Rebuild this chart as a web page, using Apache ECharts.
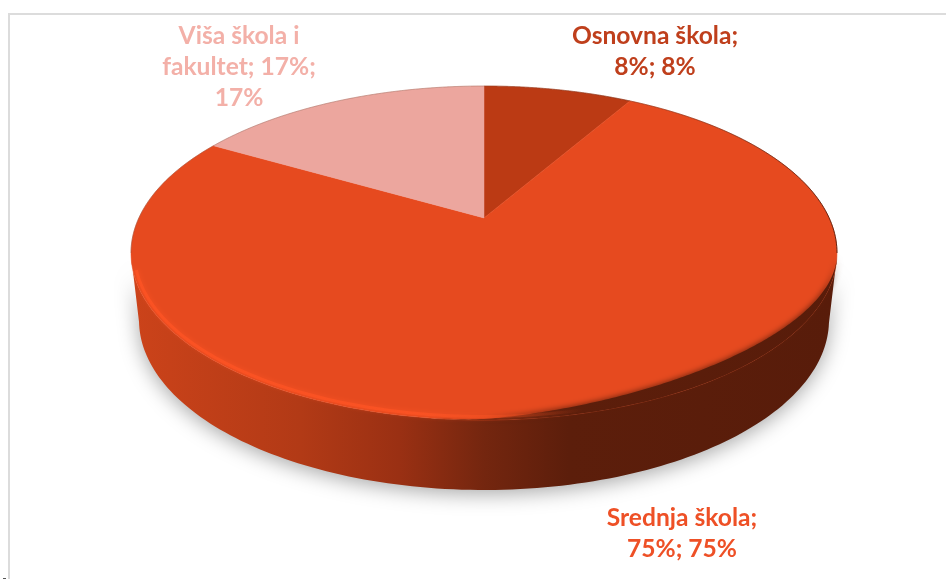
<!DOCTYPE html>
<html>
<head>
<meta charset="utf-8">
<style>
  html, body { margin: 0; padding: 0; background: #fff; }
  #chart { width: 946px; height: 579px; }
</style>
<script src="https://cdn.jsdelivr.net/npm/echarts@6/dist/echarts.min.js"></script>
</head>
<body>
<div id="chart"></div>
<script>
const categories = ['Osnovna škola', 'Srednja škola', 'Viša škola i fakultet'];
// procitano s kriski (oznake na slici su zaokruzene)
const shares = [8.33, 75, 16.67];
const sliceColors = ['#bb3a14', '#e64a1f', '#eca69e'];
const labelColors = ['#bf3f1c', '#ee5026', '#f3b0a8'];

// gornja ploha i donji rub (elipse u pikselima)
const top3d = { cx: 484, cy: 253, rx: 353, ry: 167 };
const bottom3d = { cx: 484, cy: 320, rx: 345, ry: 170 };
// pomak sredine kruga zbog perspektive
const tilt = 0.21;
const GLOBAL = true;
const total = shares.reduce((a, b) => a + b, 0);

// kut (u smjeru kazaljke, od vrha) -> normalizirana tocka na elipsi
function rimPoint(angle) {
  const u = Math.sin(angle);
  const v = Math.cos(angle);
  const d = 1 + tilt * v;
  return [u * Math.sqrt(1 - tilt * tilt) / d, (v + tilt) / d];
}

function toPixel(e, p) {
  return [e.cx + p[0] * e.rx, e.cy - p[1] * e.ry];
}

function sliceRange(i) {
  const before = shares.slice(0, i).reduce((a, b) => a + b, 0);
  return [before / total * Math.PI * 2, (before + shares[i]) / total * Math.PI * 2];
}

function sampleRim(i) {
  const [a0, a1] = sliceRange(i);
  const n = 240;
  const pts = [];
  for (let k = 0; k <= n; k++) pts.push(rimPoint(a0 + (a1 - a0) * k / n));
  return pts;
}

function arc(e, from, to, inset = 0) {
  const pts = [];
  for (let k = 0; k <= 160; k++) {
    const t = (from + (to - from) * k / 160) * Math.PI / 180;
    pts.push([e.cx + (e.rx - inset) * Math.cos(t), e.cy + (e.ry - inset) * Math.sin(t)]);
  }
  return pts;
}

const wallFill = new echarts.graphic.LinearGradient(131, 0, 837, 0, [
  { offset: 0, color: '#cc431a' },
  { offset: 0.24, color: '#b23a16' },
  { offset: 0.38, color: '#9a3013' },
  { offset: 0.5, color: '#74260f' },
  { offset: 0.62, color: '#5c1e0b' },
  { offset: 1, color: '#581c0a' }
], GLOBAL);

const edgeStroke = new echarts.graphic.LinearGradient(131, 0, 837, 0, [
  { offset: 0, color: 'rgba(255,84,36,0.7)' },
  { offset: 0.4, color: 'rgba(255,84,36,0.7)' },
  { offset: 0.64, color: 'rgba(255,84,36,0)' },
  { offset: 1, color: 'rgba(255,84,36,0)' }
], GLOBAL);

const fringeStroke = new echarts.graphic.LinearGradient(131, 0, 837, 0, [
  { offset: 0, color: 'rgba(120,80,70,0.35)' },
  { offset: 0.5, color: 'rgba(120,70,50,0.3)' },
  { offset: 0.8, color: 'rgba(90,30,12,0.45)' },
  { offset: 1, color: 'rgba(88,28,10,0.9)' }
], GLOBAL);

// bocna stijenka, samo prednji dio svake kriske
function renderWall(params) {
  const front = sampleRim(params.dataIndex).filter(p => p[1] <= 0);
  if (front.length < 2) return { type: 'group', children: [] };
  const points = front.map(p => toPixel(bottom3d, p))
    .concat(front.slice().reverse().map(p => toPixel(top3d, p)));
  return {
    type: 'polygon',
    shape: { points },
    style: {
      fill: wallFill,
      shadowBlur: 20,
      shadowColor: 'rgba(0,0,0,0.34)',
      shadowOffsetY: 4
    },
    silent: true
  };
}

function renderFace(params, api) {
  const i = params.dataIndex;
  const apex = toPixel(top3d, [0, tilt]);
  const points = [apex].concat(sampleRim(i).map(p => toPixel(top3d, p)));
  return {
    type: 'polygon',
    shape: { points },
    style: { fill: api.visual('color'), stroke: api.visual('color'), lineWidth: 0.5 },
    silent: true
  };
}

// sjena na desnom donjem rubu plohe i svijetli rub lijevo
function renderEdge() {
  const from = 100;
  const outer = arc(top3d, from, 0);
  const inner = outer.map((p, k) => {
    const deg = from - from * k / 160;
    const lift = Math.max(0, Math.sin(2 * deg * Math.PI / 180)) * 12 + Math.sin(deg / from * Math.PI) * 3;
    return [p[0], p[1] - lift];
  }).reverse();
  return {
    type: 'group',
    children: [
      { type: 'polyline', shape: { points: arc(top3d, -180, 0) },
        style: { fill: 'none', stroke: fringeStroke, lineWidth: 1 }, silent: true },
      { type: 'polygon', shape: { points: outer.concat(inner) },
        style: { fill: wallFill, shadowBlur: 6, shadowColor: '#5c1e0b' }, silent: true },
      { type: 'polyline', shape: { points: arc(top3d, 174, 60, 3.5) },
        style: { fill: 'none', stroke: edgeStroke, lineWidth: 3,
          shadowBlur: 5, shadowColor: '#ff5424' }, silent: true }
    ]
  };
}

const labelBreaks = [['\n', ' '], ['\n', ' '], [' ', '\n']];
const labelCenters = [[655, 20.5], [682, 502.5], [239, 20.5]];

function labelText(i) {
  const name = categories[i].replace('i fakultet', 'i\nfakultet');
  const v = Math.round(shares[i]) + '%';
  return name + ';' + labelBreaks[i][0] + v + ';' + labelBreaks[i][1] + v;
}

function renderLabel(params) {
  const i = params.dataIndex;
  return {
    type: 'text',
    x: labelCenters[i][0],
    y: labelCenters[i][1],
    style: {
      text: labelText(i),
      fill: labelColors[i],
      font: 'bold 24.6px Lato, "Noto Sans", sans-serif',
      lineHeight: 31,
      textAlign: 'center',
      textVerticalAlign: 'top'
    },
    silent: true
  };
}

const chart = echarts.init(document.getElementById('chart'), null, { renderer: 'canvas' });
const sliceData = shares.map((value, i) => ({
  name: categories[i],
  value,
  itemStyle: { color: sliceColors[i] }
}));

chart.setOption({
  animation: false,
  backgroundColor: '#fff',
  tooltip: { show: false },
  graphic: [
    { type: 'rect', shape: { x: 8, y: 13, width: 938, height: 2 }, style: { fill: '#dcdcdc' }, silent: true },
    { type: 'rect', shape: { x: 8, y: 13, width: 2, height: 566 }, style: { fill: '#dcdcdc' }, silent: true },
    { type: 'rect', shape: { x: 3, y: 578, width: 3, height: 1 }, style: { fill: '#555' }, silent: true }
  ],
  series: [
    { type: 'custom', coordinateSystem: 'none', z: 1, renderItem: renderWall, data: sliceData },
    { type: 'custom', coordinateSystem: 'none', z: 2, renderItem: renderFace, data: sliceData },
    { type: 'custom', coordinateSystem: 'none', z: 3, renderItem: renderEdge, data: [0] },
    { type: 'custom', coordinateSystem: 'none', z: 4, renderItem: renderLabel, data: sliceData }
  ]
});
</script>
</body>
</html>
